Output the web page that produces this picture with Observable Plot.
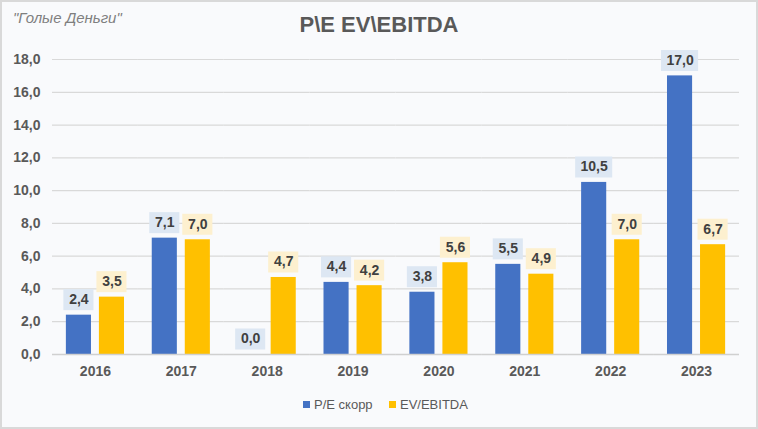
<!DOCTYPE html>
<html>
<head>
<meta charset="utf-8">
<script src="https://cdn.jsdelivr.net/npm/d3@7"></script>
<script src="https://cdn.jsdelivr.net/npm/@observablehq/plot@0.6"></script>
<style>
  html, body { margin: 0; padding: 0; background: #fff; }
  #wrap {
    position: relative; width: 758px; height: 429px; box-sizing: border-box;
    background: #f9fafc; border: 2px solid #d9d9d9;
    font-family: "Liberation Sans", Arial, sans-serif;
  }
  #chart { position: absolute; left: -2px; top: -2px; width: 758px; height: 429px; }
  #chart svg { display: block; }
  #chart svg text { font-weight: bold; font-size: 14px; }
  #sub { position: absolute; left: 11px; top: 7px; font-size: 15px; font-style: italic; color: #7f7f7f; }
  #title { position: absolute; left: 0; width: 754px; top: 10px; text-align: center; font-size: 22px; font-weight: bold; color: #595959; }
  #legend { position: absolute; top: 395px; left: 0; width: 754px; height: 20px; font-size: 13px; color: #595959; }
  .li { position: absolute; top: 0; white-space: nowrap; }
  .sw { display: inline-block; width: 7px; height: 7px; margin-right: 4px; vertical-align: 1px; }
  #err { position: absolute; left: 10px; top: 60px; color: red; font-size: 11px; }
</style>
</head>
<body>
<div id="wrap">
  <div id="chart"></div>
  <div id="sub">"Голые Деньги"</div>
  <div id="title">P\E EV\EBITDA</div>
  <div id="legend"></div>
  <div id="err"></div>
</div>
<script>
const years = ["2016", "2017", "2018", "2019", "2020", "2021", "2022", "2023"];
const seriesNames = ["P/E скорр", "EV/EBITDA"];
const peValues = [2.4, 7.1, 0.0, 4.4, 3.8, 5.5, 10.5, 17.0];
const evValues = [3.5, 7.0, 4.7, 4.2, 5.6, 4.9, 7.0, 6.7];
const yTicks = [0, 2, 4, 6, 8, 10, 12, 14, 16, 18];
const barColors = ["#4472C4", "#FFC000"];
const labelBg = ["#dde7f3", "#fdf0cf"];

try {
const data = [];
years.forEach((y, i) => {
  data.push({year: y, series: seriesNames[0], value: peValues[i]});
  data.push({year: y, series: seriesNames[1], value: evValues[i]});
});
const fmt = v => d3.format(".1f")(v).replace(".", ",");

// label background boxes: width follows label length (3 or 4 characters)
const boxMarks = [];
seriesNames.forEach((s, si) => {
  [3, 4].forEach(len => {
    const inset = len === 3 ? -2.5 : -6;
    boxMarks.push(Plot.tickY(data, {
      filter: d => d.series === s && fmt(d.value).length === len,
      fx: "year", x: "series", y: "value",
      stroke: labelBg[si], strokeWidth: 21, dy: -15.5, insetLeft: inset, insetRight: inset
    }));
  });
});

const chart = Plot.plot({
  width: 758,
  height: 429,
  marginLeft: 52,
  marginRight: 19,
  marginTop: 59,
  marginBottom: 75,
  style: {background: "transparent", fontFamily: "Liberation Sans, Arial, sans-serif", color: "#595959", overflow: "visible"},
  fx: {domain: years, padding: 0, round: false, label: null, axis: "bottom", tickSize: 0, tickPadding: 12},
  x: {domain: seriesNames, paddingInner: 0.24, paddingOuter: 0.42, round: false, axis: null},
  y: {domain: [0, 18], ticks: yTicks, tickFormat: fmt, tickSize: 0, tickPadding: 12, label: null},
  color: {domain: seriesNames, range: barColors},
  marks: [
    Plot.ruleY(yTicks, {stroke: "#d9d9d9", strokeWidth: 1.2}),
    Plot.barY(data, {fx: "year", x: "series", y: "value", fill: "series"}),
    ...boxMarks,
    Plot.text(data, {fx: "year", x: "series", y: "value", text: d => fmt(d.value), dy: -15.5,
      fontSize: 14, fontWeight: "bold", fill: "#404040"}),
    Plot.ruleY([0], {stroke: "#d0d0d0", strokeWidth: 1.5})
  ]
});
document.getElementById("chart").appendChild(chart);
} catch (e) { document.getElementById("err").textContent = String(e); }

const legend = document.getElementById("legend");
const legendX = [301, 387];
seriesNames.forEach((s, i) => {
  const el = document.createElement("div");
  el.className = "li";
  el.style.left = legendX[i] + "px";
  el.innerHTML = `<span class="sw" style="background:${barColors[i]}"></span>${s}`;
  legend.appendChild(el);
});
</script>
</body>
</html>
